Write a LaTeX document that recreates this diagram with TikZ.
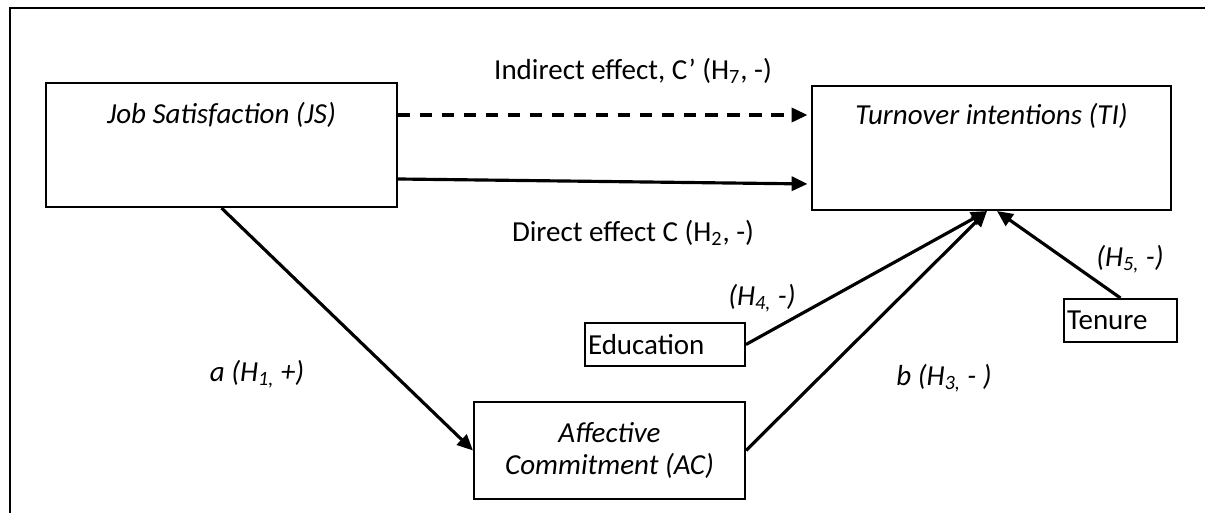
\documentclass[tikz,border=0pt]{standalone}
\usepackage{fontspec}
\setmainfont{Carlito}
\usetikzlibrary{arrows.meta,positioning}

\tikzset{
  varbox/.style={draw, line width=1.2pt, inner sep=0pt},
  ctrlbox/.style={draw, line width=1.1pt, align=left, inner xsep=0.06cm, inner ysep=0pt},
  effect/.style={-{Triangle[length=9pt,width=8pt]}, line width=1.8pt},
  varname/.style={font=\fontsize{16.5}{18.7}\selectfont\itshape},
  hyplabel/.style={font=\fontsize{16.5}{18.7}\selectfont\itshape}
}

\begin{document}
\begin{tikzpicture}[x=0.02cm, y=-0.02cm, every node/.style={font=\fontsize{16.5}{18.7}\selectfont}]
			% Frame
			\useasboundingbox (0,0) rectangle (1205,513);
			\draw[line width=1.5pt] (10,513) -- (10,8) -- (1205,8);

			% Variables
			\node[varbox, minimum width=7.02cm, minimum height=2.48cm] (js) at (221.5,145) {};
			\node[varname] (jslabel) at (221.5,115) {Job Satisfaction (JS)};
			\node[varbox, minimum width=7.18cm, minimum height=2.48cm] (ti) at (991.5,148) {};
			\node[varname] (tilabel) at (991.5,116) {Turnover intentions (TI)};
			\node[varbox, varname, align=center, minimum width=5.42cm, minimum height=1.94cm] (ac) at (609.5,450.5) {Affective\\Commitment (AC)};

			% Controls
			\node[ctrlbox, text width=3.08cm, minimum height=0.86cm] (edu) at (665,344.5) {Education};
			\node[ctrlbox, text width=2.14cm, minimum height=0.86cm] (ten) at (1120.5,320.5) {Tenure};

			% Edges
			\draw[effect, dash pattern=on 7pt off 5.5pt, shorten >=2pt] ([yshift=0.6cm]js.east) -- ([yshift=0.6cm]js.east -| ti.west);
			\draw[effect, shorten >=2pt] ([yshift=-0.68cm]js.east) -- ([yshift=-0.72cm]ti.west);
			\draw[effect] (js.south) -- (ac.west);
			\draw[effect] (ac.east) -- ([xshift=-0.09cm]ti.south);
			\draw[effect] (edu.east) -- ([xshift=-0.09cm]ti.south);
			\draw[effect] (ten.north) -- ([xshift=0.11cm]ti.south);

			% Labels
			\node (lblindirect) at (633,71) {Indirect effect, C’ (H\textsubscript{7}, -)};
			\node (lbldirect) at (633,233) {Direct effect C (H\textsubscript{2}, -)};
			\node[hyplabel] (lbla) at (257,374) {a (H\textsubscript{1,} +)};
			\node[hyplabel] (lbledu) at (762,298) {(H\textsubscript{4,} -)};
			\node[hyplabel] (lblb) at (944,378) {b (H\textsubscript{3,} - )};
			\node[hyplabel] (lblten) at (1130,259) {(H\textsubscript{5,} -)};
		\end{tikzpicture}
\end{document}
